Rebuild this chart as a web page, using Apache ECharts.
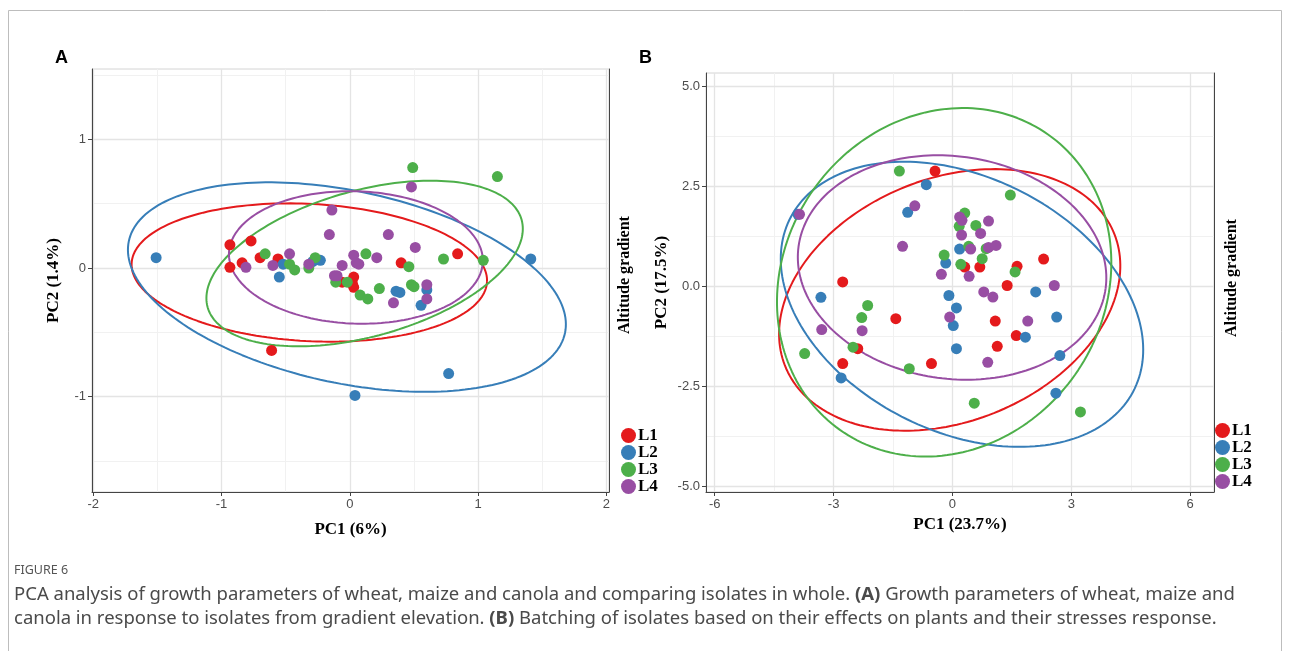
<!DOCTYPE html>
<html><head><meta charset="utf-8">
<script src="https://cdn.jsdelivr.net/npm/echarts@6/dist/echarts.min.js"></script>
<style>html,body{margin:0;padding:0;background:#fff}#c{width:1290px;height:651px}</style>
</head><body><div id="c"></div>
<script>
const groups = ['L1', 'L2', 'L3', 'L4'];
const colors = ['#E41A1C', '#377EB8', '#4DAF4A', '#984EA3'];

// Panel A points [PC1, PC2]
const A_L1 = [[-0.935,0.18],[-0.77,0.21],[-0.935,0.005],[-0.84,0.04],[-0.70,0.08],[-0.56,0.07],[-0.61,-0.64],[-0.06,-0.11],[0.03,-0.07],[0.03,-0.15],[0.40,0.04],[0.84,0.11],[0.02,-0.12]];
const A_L2 = [[-1.51,0.08],[-0.55,-0.07],[-0.52,0.03],[-0.29,0.05],[-0.23,0.06],[0.60,-0.17],[0.36,-0.18],[0.39,-0.19],[0.555,-0.29],[1.41,0.07],[0.77,-0.82],[0.04,-0.99]];
const A_L3 = [[-0.66,0.11],[-0.47,0.03],[-0.43,-0.015],[-0.32,0.00],[-0.27,0.08],[-0.11,-0.11],[-0.02,-0.11],[0.08,-0.21],[0.49,0.78],[1.15,0.71],[0.73,0.07],[1.04,0.06],[0.46,0.01],[0.125,0.11],[0.14,-0.24],[0.23,-0.16],[0.48,-0.13],[0.50,-0.145]];
const A_L4 = [[-0.81,0.005],[-0.60,0.02],[-0.47,0.11],[-0.32,0.03],[-0.14,0.45],[-0.16,0.26],[-0.12,-0.06],[-0.10,-0.06],[-0.06,0.02],[0.03,0.10],[0.05,0.04],[0.48,0.63],[0.30,0.26],[0.51,0.16],[0.21,0.08],[0.07,0.03],[0.60,-0.13],[0.60,-0.24],[0.34,-0.27]];

// Panel B points [PC1, PC2]
const B_L1 = [[-0.44,2.88],[-2.77,0.11],[-1.43,-0.81],[0.31,0.48],[0.69,0.48],[1.63,0.5],[2.30,0.68],[1.38,0.02],[1.08,-0.87],[1.61,-1.23],[1.13,-1.5],[-2.39,-1.56],[-2.77,-1.93],[-0.53,-1.93]];
const B_L2 = [[-3.9,1.8],[-0.66,2.54],[-1.13,1.85],[-0.17,0.58],[-3.32,-0.275],[-0.09,-0.23],[0.02,-0.98],[0.18,0.93],[2.10,-0.14],[0.10,-0.54],[2.63,-0.77],[1.84,-1.27],[0.10,-1.56],[2.71,-1.73],[-2.81,-2.29],[2.61,-2.67]];
const B_L3 = [[-1.34,2.88],[-0.21,0.78],[-2.14,-0.48],[-2.29,-0.78],[1.46,2.28],[0.31,1.83],[0.17,1.5],[0.59,1.52],[0.41,1.0],[0.85,0.94],[0.21,0.55],[0.75,0.69],[1.58,0.36],[-3.73,-1.68],[-2.51,-1.52],[-1.09,-2.06],[0.55,-2.92],[3.23,-3.14]];
const B_L4 = [[-3.86,1.80],[-0.95,2.01],[-1.26,1.0],[-0.28,0.30],[-3.30,-1.08],[-2.28,-1.11],[-0.07,-0.77],[0.18,1.73],[0.24,1.65],[0.91,1.63],[0.71,1.32],[0.23,1.28],[0.46,0.93],[0.91,0.97],[1.1,1.02],[0.42,0.25],[2.57,0.02],[0.79,-0.14],[1.02,-0.27],[1.90,-0.87],[0.89,-1.9]];

// Confidence ellipses: [centerX, centerY, semiMajor, semiMinor, angleDeg]
const A_ELL_L1 = [-0.316, -0.035, 1.387, 0.533, -3];
const A_ELL_L2 = [-0.023, -0.148, 1.737, 0.747, -11.85];
const A_ELL_L3 = [0.115, 0.035, 1.27, 0.567, 15.5];
const A_ELL_L4 = [0.047, 0.082, 0.99, 0.514, -2];
const B_ELL_L1 = [-0.07, -0.34, 4.47, 3.04, 21.5];
const B_ELL_L2 = [0.24, -0.45, 4.84, 3.19, -25.8];
const B_ELL_L3 = [-0.21, 0.10, 4.53, 4.03, 52.9];
const B_ELL_L4 = [-0.01, 0.47, 3.91, 2.78, -7.7];

// Tick labels
const A_xTicks = [-2, -1, 0, 1, 2];
const A_xMinor = [-1.5, -0.5, 0.5, 1.5];
const A_yTicks = [-1, 0, 1];
const A_yMinor = [-1.5, -0.5, 0.5, 1.5];
const B_xTicks = [-6, -3, 0, 3, 6];
const B_xMinor = [-4.5, -1.5, 1.5, 4.5];
const B_yTicks = [-5, -2.5, 0, 2.5, 5];
const B_yMinor = [-3.75, -1.25, 1.25, 3.75];

function ellipse(p) {
  const [cx, cy, a, b, deg] = p;
  const th = deg * Math.PI / 180;
  const pts = [];
  for (let i = 0; i <= 200; i++) {
    const t = 2 * Math.PI * i / 200;
    pts.push([cx + a * Math.cos(t) * Math.cos(th) - b * Math.sin(t) * Math.sin(th),
              cy + a * Math.cos(t) * Math.sin(th) + b * Math.sin(t) * Math.cos(th)]);
  }
  return pts;
}

const serifBold = {fontFamily: 'Liberation Serif', fontWeight: 'bold', color: '#000'};
const tickLbl = {color: '#4d4d4d', fontSize: 13, fontFamily: 'Liberation Sans', margin: 6};
const majorGrid = {show: true, lineStyle: {color: '#e4e4e4', width: 1.3}};
const minorGrid = {show: true, lineStyle: {color: '#f1f1f1', width: 1}};

function mainAxis(grid, min, max, ticks, fmt, name, gap, pos) {
  return {
    type: 'value', gridIndex: grid, min: min, max: max, position: pos,
    name: name, nameLocation: 'middle', nameGap: gap,
    nameTextStyle: Object.assign({fontSize: 17}, serifBold),
    axisLine: {show: true, onZero: false, lineStyle: {color: '#444', width: 1}},
    axisTick: {show: true, length: 4, customValues: ticks, lineStyle: {color: '#444'}},
    axisLabel: Object.assign({customValues: ticks, formatter: fmt}, tickLbl),
    splitLine: majorGrid, z: 2
  };
}
function minorAxis(grid, min, max, ticks, pos, borderShow) {
  return {
    type: 'value', gridIndex: grid, min: min, max: max, position: pos,
    axisLine: {show: borderShow, onZero: false, lineStyle: {color: '#444', width: 1}},
    axisTick: {show: false, customValues: ticks},
    axisLabel: {show: false, customValues: ticks},
    splitLine: minorGrid, z: 1
  };
}
const fmtInt = v => String(v);
const fmt1 = v => v.toFixed(1);

const series = [];
const ellA = [A_ELL_L1, A_ELL_L2, A_ELL_L3, A_ELL_L4];
const ellB = [B_ELL_L1, B_ELL_L2, B_ELL_L3, B_ELL_L4];
const ptsA = [A_L1, A_L2, A_L3, A_L4];
const ptsB = [B_L1, B_L2, B_L3, B_L4];
groups.forEach((g, i) => {
  series.push({type: 'line', name: 'ellA' + g, xAxisIndex: 0, yAxisIndex: 0, data: ellipse(ellA[i]),
    showSymbol: false, silent: true, lineStyle: {color: colors[i], width: 2}, z: 3});
  series.push({type: 'line', name: 'ellB' + g, xAxisIndex: 2, yAxisIndex: 2, data: ellipse(ellB[i]),
    showSymbol: false, silent: true, lineStyle: {color: colors[i], width: 2}, z: 3});
});
groups.forEach((g, i) => {
  series.push({type: 'scatter', name: g, xAxisIndex: 0, yAxisIndex: 0, data: ptsA[i],
    symbolSize: 11, itemStyle: {color: colors[i], opacity: 1}, z: 4});
  series.push({type: 'scatter', name: g, xAxisIndex: 2, yAxisIndex: 2, data: ptsB[i],
    symbolSize: 11, itemStyle: {color: colors[i], opacity: 1}, z: 4});
});

const legendBase = {
  orient: 'vertical', icon: 'circle', itemWidth: 15, itemHeight: 15, itemGap: 0,
  selectedMode: false, data: groups,
  textStyle: Object.assign({fontSize: 17, lineHeight: 15, padding: [0, 0, 0, -3]}, serifBold)
};

const option = {
  animation: false,
  backgroundColor: '#fff',
  grid: [
    {left: 92, top: 69, width: 517, height: 423, show: true, borderColor: '#d4d4d4', borderWidth: 1, backgroundColor: 'transparent'},
    {left: 706, top: 73, width: 508, height: 419, show: true, borderColor: '#d4d4d4', borderWidth: 1, backgroundColor: 'transparent'}
  ],
  xAxis: [
    mainAxis(0, -2.01, 2.02, A_xTicks, fmtInt, 'PC1 (6%)', 29, 'bottom'),
    minorAxis(0, -2.01, 2.02, A_xMinor, 'top', false),
    mainAxis(1, -6.22, 6.6, B_xTicks, fmtInt, 'PC1 (23.7%)', 23, 'bottom'),
    minorAxis(1, -6.22, 6.6, B_xMinor, 'top', false)
  ],
  yAxis: [
    mainAxis(0, -1.74, 1.546, A_yTicks, fmtInt, 'PC2 (1.4%)', 30, 'left'),
    minorAxis(0, -1.74, 1.546, A_yMinor, 'right', true),
    mainAxis(1, -5.14, 5.33, B_yTicks, fmt1, 'PC2 (17.5%)', 36, 'left'),
    minorAxis(1, -5.14, 5.33, B_yMinor, 'right', true)
  ],
  legend: [
    Object.assign({left: 616, top: 422}, legendBase),
    Object.assign({left: 1210, top: 417}, legendBase)
  ],
  series: series,
  graphic: [
    {type: 'rect', shape: {x: 8.5, y: 10.5, width: 1273, height: 700}, style: {fill: 'none', stroke: '#bdbdbd', lineWidth: 1}, silent: true},
    {type: 'text', left: 55, top: 49, style: {text: 'A', font: 'bold 18px "Liberation Sans"', fill: '#000'}},
    {type: 'text', left: 639, top: 49, style: {text: 'B', font: 'bold 18px "Liberation Sans"', fill: '#000'}},
    {type: 'text', x: 625, y: 275, rotation: Math.PI / 2, style: {text: 'Altitude gradient', font: 'bold 16px "Liberation Serif"', fill: '#000', align: 'center', verticalAlign: 'middle'}},
    {type: 'text', x: 1232, y: 278, rotation: Math.PI / 2, style: {text: 'Altitude gradient', font: 'bold 16px "Liberation Serif"', fill: '#000', align: 'center', verticalAlign: 'middle'}},
    {type: 'text', left: 14, top: 564, style: {text: 'FIGURE 6', font: '12.5px "Noto Sans"', fill: '#555'}},
    {type: 'text', left: 14, top: 583, style: {
      text: 'PCA analysis of growth parameters of wheat, maize and canola and comparing isolates in whole. {b|(A)} Growth parameters of wheat, maize and\ncanola in response to isolates from gradient elevation. {b|(B)} Batching of isolates based on their effects on plants and their stresses response.',
      font: '18.5px "Noto Sans"', fill: '#4a4a4a', lineHeight: 24,
      rich: {b: {font: 'bold 18.5px "Noto Sans"', fill: '#4a4a4a', lineHeight: 24}}
    }}
  ]
};
const chart = echarts.init(document.getElementById('c'), null, {renderer: 'canvas'});
chart.setOption(option);
</script></body></html>
